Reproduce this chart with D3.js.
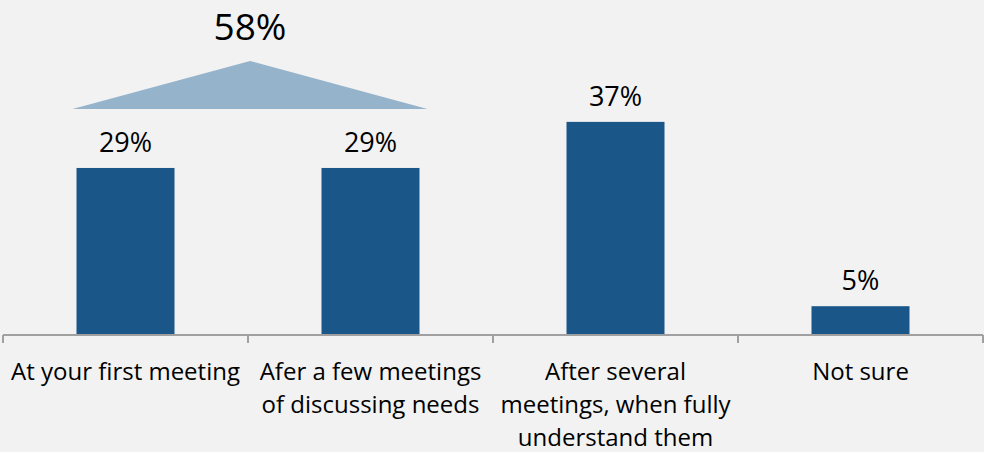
<!DOCTYPE html>
<html>
<head>
<meta charset="utf-8">
<script src="https://cdn.jsdelivr.net/npm/d3@7"></script>
<style>
  body { margin: 0; background: #f2f2f2; }
  text { font-family: "Open Sans", sans-serif; fill: #000; }
</style>
</head>
<body>
<div id="chart"></div>
<script>
// Chart data
const categories = ["first", "few", "several", "notsure"];
const tickLabels = [
    ["At your first meeting"],
    ["Afer a few meetings", "of discussing needs"],
    ["After several", "meetings, when fully", "understand them"],
    ["Not sure"]
];
const values = [29, 29, 37, 5];
const groupedTotal = 58;          // first + few, shown above the triangle
const groupedCategories = ["first", "few"];

// The SVG dimensions
const W = 984, H = 452;
const margin = {top: 0, right: 1, bottom: 117, left: 3};
const width = W - margin.left - margin.right,
      height = H - margin.top - margin.bottom;

// Set the scales
const x = d3.scaleBand().domain(categories).range([0, width]).paddingInner(0.6).paddingOuter(0.3);
const y = d3.scaleLinear().domain([0, 58]).range([height, height - 5.76 * 58]);

const svg = d3.select("#chart")
    .append("svg")
    .attr("width", W)
    .attr("height", H)
    .append("g")
    .attr("transform", `translate(${margin.left},${margin.top})`);

// Bars
svg.selectAll("rect.bar")
    .data(values)
    .enter()
    .append("rect")
    .attr("class", "bar")
    .attr("x", (d, i) => x(categories[i]))
    .attr("y", d => y(d))
    .attr("width", x.bandwidth())
    .attr("height", d => y(0) - y(d))
    .attr("fill", "#1a5788");

// Value labels
svg.selectAll("text.val")
    .data(values)
    .enter()
    .append("text")
    .attr("class", "val")
    .attr("x", (d, i) => x(categories[i]) + x.bandwidth() / 2)
    .attr("y", d => y(d) - 16)
    .attr("text-anchor", "middle")
    .style("font-size", "27px")
    .text(d => d + "%");

// Triangle over the grouped bars
const gx0 = x(groupedCategories[0]) - 4;
const gx1 = x(groupedCategories[1]) + x.bandwidth() + 8;
const gBase = y(29) - 59;
const gApex = gBase - 48;
svg.append("path")
    .attr("d", `M${gx0},${gBase}L${(gx0 + gx1) / 2},${gApex}L${gx1},${gBase}Z`)
    .attr("fill", "#95b3cb");

svg.append("text")
    .attr("x", (gx0 + gx1) / 2)
    .attr("y", gApex - 21)
    .attr("text-anchor", "middle")
    .style("font-size", "37px")
    .text(groupedTotal + "%");

// X axis: line plus ticks on the band boundaries
const axis = svg.append("g").attr("transform", `translate(0,${height})`);
axis.append("line")
    .attr("x1", 0).attr("x2", width)
    .attr("stroke", "#a0a0a0").attr("stroke-width", 2);

const step = x.step();
const bounds = d3.range(categories.length + 1).map(i => i === 0 ? 0 : x(categories[i - 1]) + x.bandwidth() + step * x.paddingInner() / 2);
bounds[bounds.length - 1] = width;
axis.selectAll("line.tick")
    .data(bounds)
    .enter()
    .append("line")
    .attr("class", "tick")
    .attr("x1", d => d).attr("x2", d => d)
    .attr("y1", 0).attr("y2", 8)
    .attr("stroke", "#a0a0a0").attr("stroke-width", 2);

// Category labels
axis.selectAll("text.cat")
    .data(tickLabels)
    .enter()
    .append("text")
    .attr("class", "cat")
    .attr("text-anchor", "middle")
    .attr("transform", (d, i) => `translate(${x(categories[i]) + x.bandwidth() / 2},0)`)
    .style("font-size", "24px")
    .selectAll("tspan")
    .data(d => d)
    .enter()
    .append("tspan")
    .attr("x", 0)
    .attr("y", (d, i) => 45 + i * 33)
    .text(d => d);
</script>
</body>
</html>
